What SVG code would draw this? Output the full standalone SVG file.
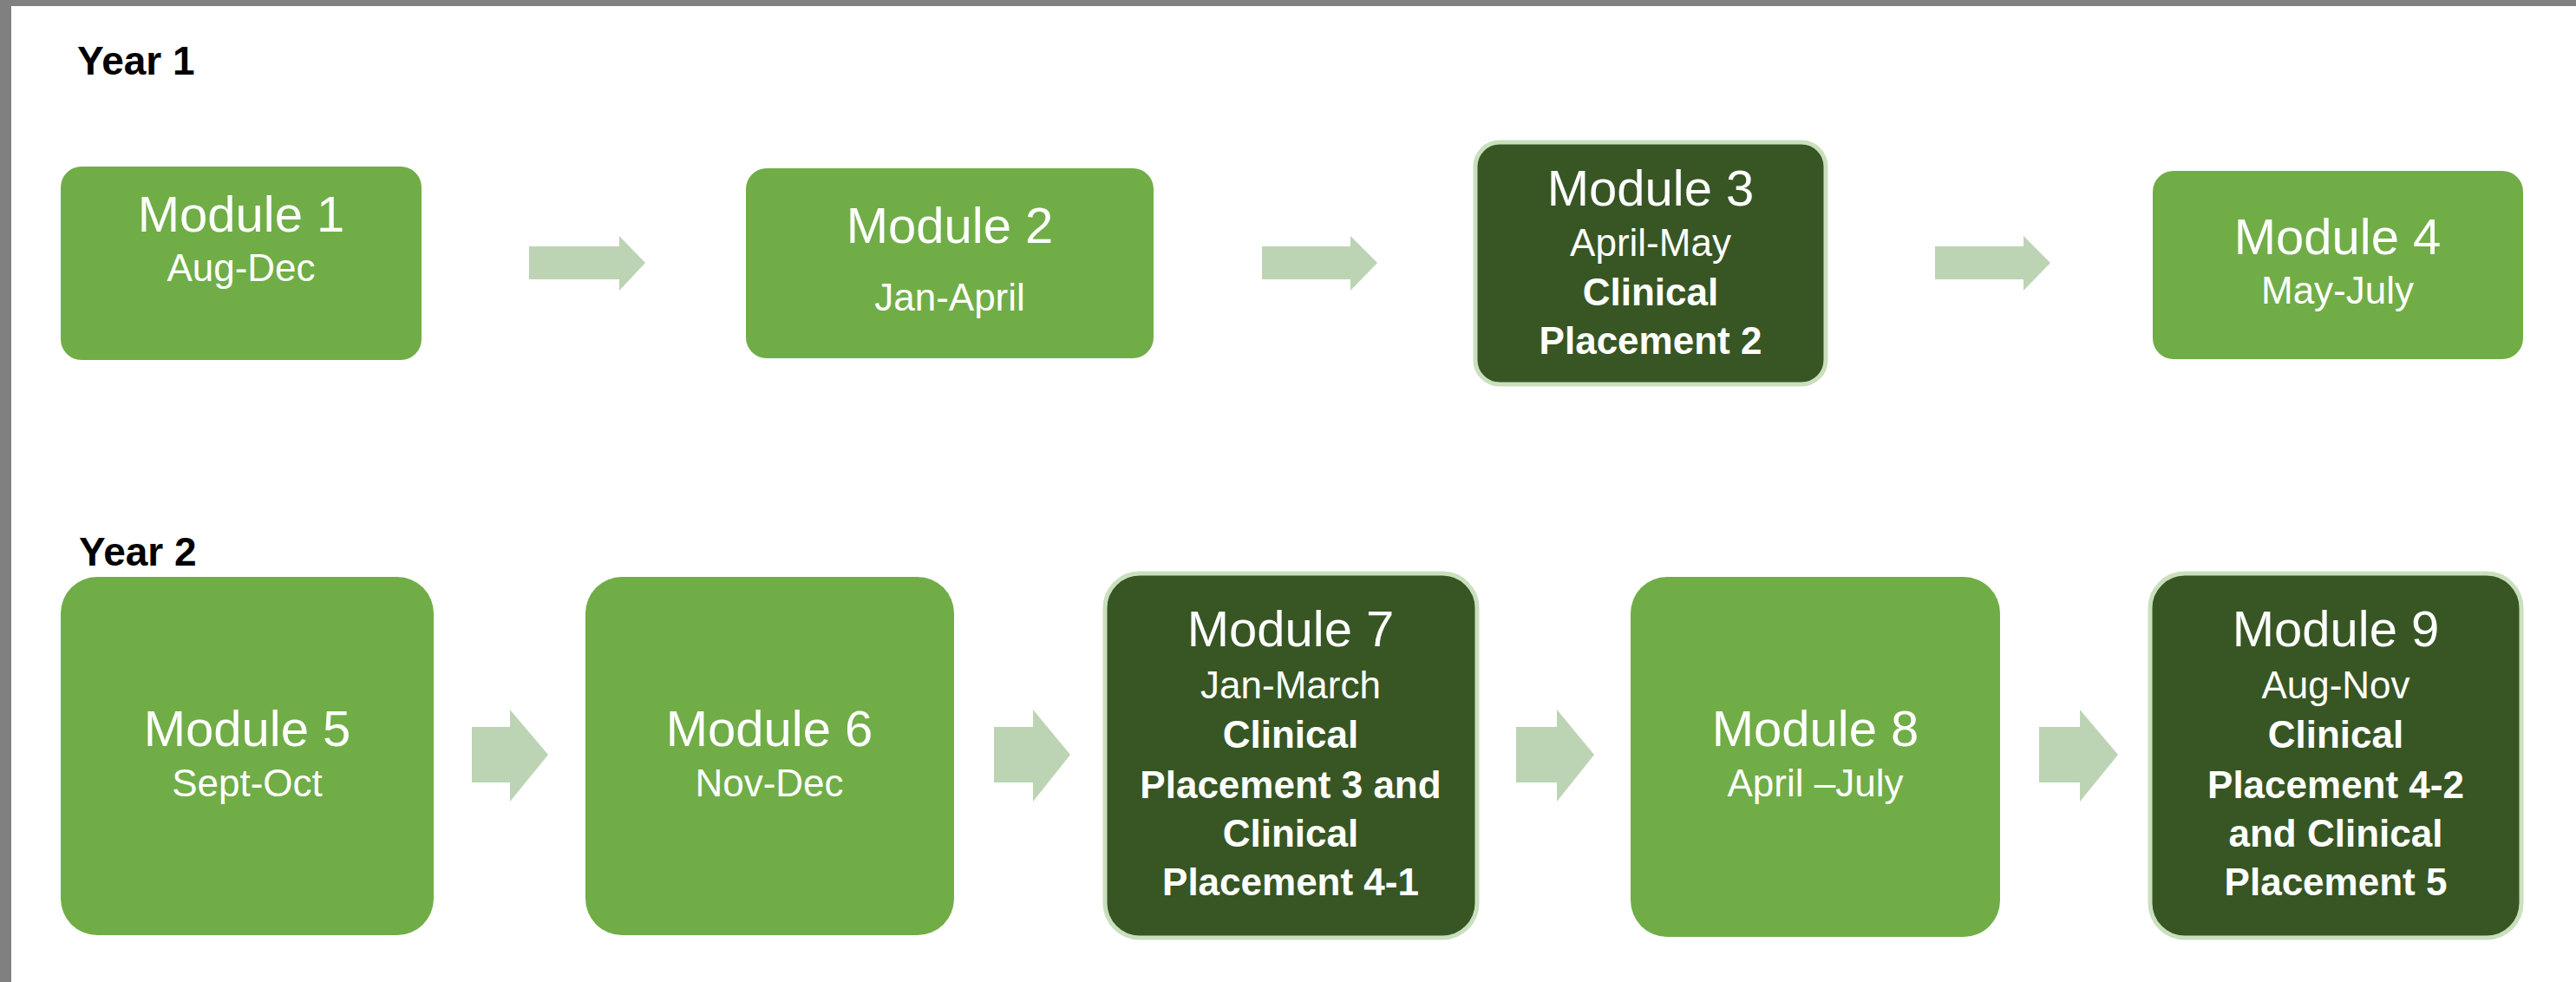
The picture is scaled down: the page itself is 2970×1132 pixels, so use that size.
<svg xmlns="http://www.w3.org/2000/svg" width="2970" height="1132" viewBox="0 0 2970 1132">
<style>
.bg{fill:#ffffff}
.frame{fill:#808080}
.light{fill:#70AD47}
.dark{fill:#375623;stroke:#C9DFBE;stroke-width:5}
.arrow{fill:#BCD4B4}
.year{font-family:"Liberation Sans",Arial,sans-serif;font-weight:bold;font-size:46px;fill:#000000}
.t{font-family:"Liberation Sans",Arial,sans-serif;fill:#ffffff;text-anchor:middle}
.h{font-size:58px}
.s{font-size:44px}
.b{font-size:44px;font-weight:bold}
</style>
<rect class="bg" x="0" y="0" width="2970" height="1132"/>
<rect class="frame" x="0" y="0" width="2970" height="7"/>
<rect class="frame" x="0" y="0" width="13" height="1132"/>

<text class="year" x="89" y="86">Year 1</text>
<text class="year" x="91" y="652">Year 2</text>

<g id="connectors">
<polygon class="arrow" points="610,284 714,284 714,272 744,303 714,335 714,322 610,322"/>
<polygon class="arrow" points="1455,284 1557,284 1557,272 1588,303 1557,335 1557,322 1455,322"/>
<polygon class="arrow" points="2231,284 2333,284 2333,272 2364,303 2333,335 2333,322 2231,322"/>
<polygon class="arrow" points="544,838 588,838 588,818 632,870 588,924 588,902 544,902"/>
<polygon class="arrow" points="1146,838 1191,838 1191,818 1234,870 1191,924 1191,902 1146,902"/>
<polygon class="arrow" points="1748,838 1795,838 1795,818 1838,870 1795,924 1795,902 1748,902"/>
<polygon class="arrow" points="2351,838 2398,838 2398,818 2442,870 2398,924 2398,902 2351,902"/>
</g>

<g id="module1">
<rect class="light" x="70" y="192" width="416" height="223" rx="24"/>
<text class="t h" x="278" y="267">Module 1</text>
<text class="t s" x="278" y="324">Aug-Dec</text>
</g>
<g id="module2">
<rect class="light" x="860" y="194" width="470" height="219" rx="24"/>
<text class="t h" x="1095" y="280">Module 2</text>
<text class="t s" x="1095" y="358">Jan-April</text>
</g>
<g id="module3">
<rect class="dark" x="1701" y="164" width="404" height="279" rx="28"/>
<text class="t h" x="1903" y="237">Module 3</text>
<text class="t s" x="1903" y="295">April-May</text>
<text class="t b" x="1903" y="352">Clinical</text>
<text class="t b" x="1903" y="408">Placement 2</text>
</g>
<g id="module4">
<rect class="light" x="2482" y="197" width="427" height="217" rx="24"/>
<text class="t h" x="2695" y="293">Module 4</text>
<text class="t s" x="2695" y="350">May-July</text>
</g>

<g id="module5">
<rect class="light" x="70" y="665" width="430" height="413" rx="42"/>
<text class="t h" x="285" y="860">Module 5</text>
<text class="t s" x="285" y="918">Sept-Oct</text>
</g>
<g id="module6">
<rect class="light" x="675" y="665" width="425" height="413" rx="42"/>
<text class="t h" x="887" y="860">Module 6</text>
<text class="t s" x="887" y="918">Nov-Dec</text>
</g>
<g id="module7">
<rect class="dark" x="1274" y="661" width="429" height="420" rx="40"/>
<text class="t h" x="1488" y="745">Module 7</text>
<text class="t s" x="1488" y="805">Jan-March</text>
<text class="t b" x="1488" y="862">Clinical</text>
<text class="t b" x="1488" y="920">Placement 3 and</text>
<text class="t b" x="1488" y="976">Clinical</text>
<text class="t b" x="1488" y="1032">Placement 4-1</text>
</g>
<g id="module8">
<rect class="light" x="1880" y="665" width="426" height="415" rx="42"/>
<text class="t h" x="2093" y="860">Module 8</text>
<text class="t s" x="2093" y="918">April –July</text>
</g>
<g id="module9">
<rect class="dark" x="2479" y="661" width="428" height="420" rx="40"/>
<text class="t h" x="2693" y="745">Module 9</text>
<text class="t s" x="2693" y="805">Aug-Nov</text>
<text class="t b" x="2693" y="862">Clinical</text>
<text class="t b" x="2693" y="920">Placement 4-2</text>
<text class="t b" x="2693" y="976">and Clinical</text>
<text class="t b" x="2693" y="1032">Placement 5</text>
</g>
</svg>
